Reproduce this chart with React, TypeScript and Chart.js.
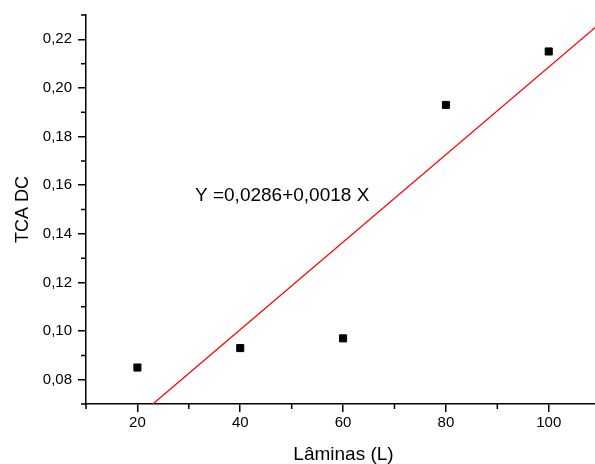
import React, { useEffect, useRef } from "react";
import { Chart, registerables } from "chart.js";

Chart.register(...registerables);

// Data
const laminas = [20, 40, 60, 80, 100];
const tcaDC = [0.085, 0.093, 0.097, 0.193, 0.215];

// Fitted line endpoints (Y = 0,0286 + 0,0018 X)
const fitX = [20, 109];
const fitY = [0.0646, 0.2248];

// Axis ticks
const xMajor = [20, 40, 60, 80, 100];
const xMinor = [10, 30, 50, 70, 90];
const yMajor = [0.08, 0.1, 0.12, 0.14, 0.16, 0.18, 0.2, 0.22];
const yMinor = [0.07, 0.09, 0.11, 0.13, 0.15, 0.17, 0.19, 0.21, 0.23];

const equationText = "Y =0,0286+0,0018 X";
const equationPos = [31.2, 0.1555];
const xTitle = "Lâminas (L)";
const yTitle = "TCA DC";

const FONT = '"Liberation Sans", Arial, sans-serif';

const decorPlugin = {
  id: "decor",
  afterDraw(chart: any) {
    const { ctx, chartArea, scales } = chart;
    const xs = scales.x;
    const ys = scales.y;
    ctx.save();
    ctx.strokeStyle = "#000";
    ctx.lineWidth = 1.5;
    ctx.beginPath();
    for (const v of xMinor) {
      const px = xs.getPixelForValue(v);
      ctx.moveTo(px, chartArea.bottom);
      ctx.lineTo(px, chartArea.bottom + 5);
    }
    for (const v of yMinor) {
      const py = ys.getPixelForValue(v);
      ctx.moveTo(chartArea.left, py);
      ctx.lineTo(chartArea.left - 5, py);
    }
    ctx.stroke();

    ctx.fillStyle = "#000";
    // equation
    ctx.font = `19px ${FONT}`;
    ctx.textAlign = "left";
    ctx.textBaseline = "middle";
    ctx.fillText(
      equationText,
      xs.getPixelForValue(equationPos[0]),
      ys.getPixelForValue(equationPos[1])
    );
    // x title
    ctx.textAlign = "center";
    ctx.textBaseline = "middle";
    ctx.fillText(xTitle, (chartArea.left + chartArea.right) / 2 + 3, 455);
    // y title
    ctx.font = `18px ${FONT}`;
    ctx.translate(23, (chartArea.top + chartArea.bottom) / 2);
    ctx.rotate(-Math.PI / 2);
    ctx.fillText(yTitle, 0, 0);
    ctx.restore();
  },
};

export default function App() {
  const ref = useRef<HTMLCanvasElement>(null);
  useEffect(() => {
    if (!ref.current) return;
    const chart = new Chart(ref.current, {
      type: "scatter",
      data: {
        datasets: [
          {
            label: "TCA DC",
            data: laminas.map((x, i) => ({ x, y: tcaDC[i] })),
            pointStyle: "rect",
            pointRadius: 5,
            pointBorderWidth: 1,
            backgroundColor: "#000",
            borderColor: "#000",
            showLine: false,
            order: 1,
          },
          {
            label: "fit",
            data: fitX.map((x, i) => ({ x, y: fitY[i] })),
            showLine: true,
            borderColor: "#ff0000",
            borderWidth: 1.3,
            pointRadius: 0,
            order: 2,
          },
        ],
      },
      options: {
        animation: false,
        responsive: false,
        devicePixelRatio: 1,
        layout: { autoPadding: false, padding: { top: 15, right: 0, left: 0, bottom: 0 } },
        plugins: { legend: { display: false }, tooltip: { enabled: false } },
        scales: {
          x: {
            type: "linear",
            min: 10,
            max: 109,
            afterBuildTicks: (axis: any) => {
              axis.ticks = xMajor.map((v) => ({ value: v }));
            },
            afterFit: (axis: any) => {
              axis.height = 60;
              axis.paddingLeft = 0;
              axis.paddingRight = 0;
            },
            grid: {
              display: true,
              drawOnChartArea: false,
              drawTicks: true,
              tickLength: 8,
              color: "#000",
              lineWidth: 1.5,
            },
            border: { display: true, color: "#000", width: 1.5 },
            ticks: {
              color: "#000",
              font: { family: FONT, size: 15 },
              padding: 2,
              maxRotation: 0,
              callback: (v: any) => String(v),
            },
          },
          y: {
            type: "linear",
            min: 0.07,
            max: 0.23,
            afterBuildTicks: (axis: any) => {
              axis.ticks = yMajor.map((v) => ({ value: v }));
            },
            afterFit: (axis: any) => {
              axis.width = 86;
              axis.paddingTop = 0;
              axis.paddingBottom = 0;
            },
            grid: {
              display: true,
              drawOnChartArea: false,
              drawTicks: true,
              tickLength: 8,
              color: "#000",
              lineWidth: 1.5,
            },
            border: { display: true, color: "#000", width: 1.5 },
            ticks: {
              color: "#000",
              font: { family: FONT, size: 15 },
              padding: 6,
              callback: (v: any) => Number(v).toFixed(2).replace(".", ","),
            },
          },
        },
      },
      plugins: [decorPlugin],
    });
    return () => chart.destroy();
  }, []);
  return (
    <div style={{ position: "fixed", left: 0, top: 0, width: 595, height: 464, background: "#fff" }}>
      <canvas ref={ref} width={595} height={464} style={{ width: 595, height: 464 }} />
    </div>
  );
}
